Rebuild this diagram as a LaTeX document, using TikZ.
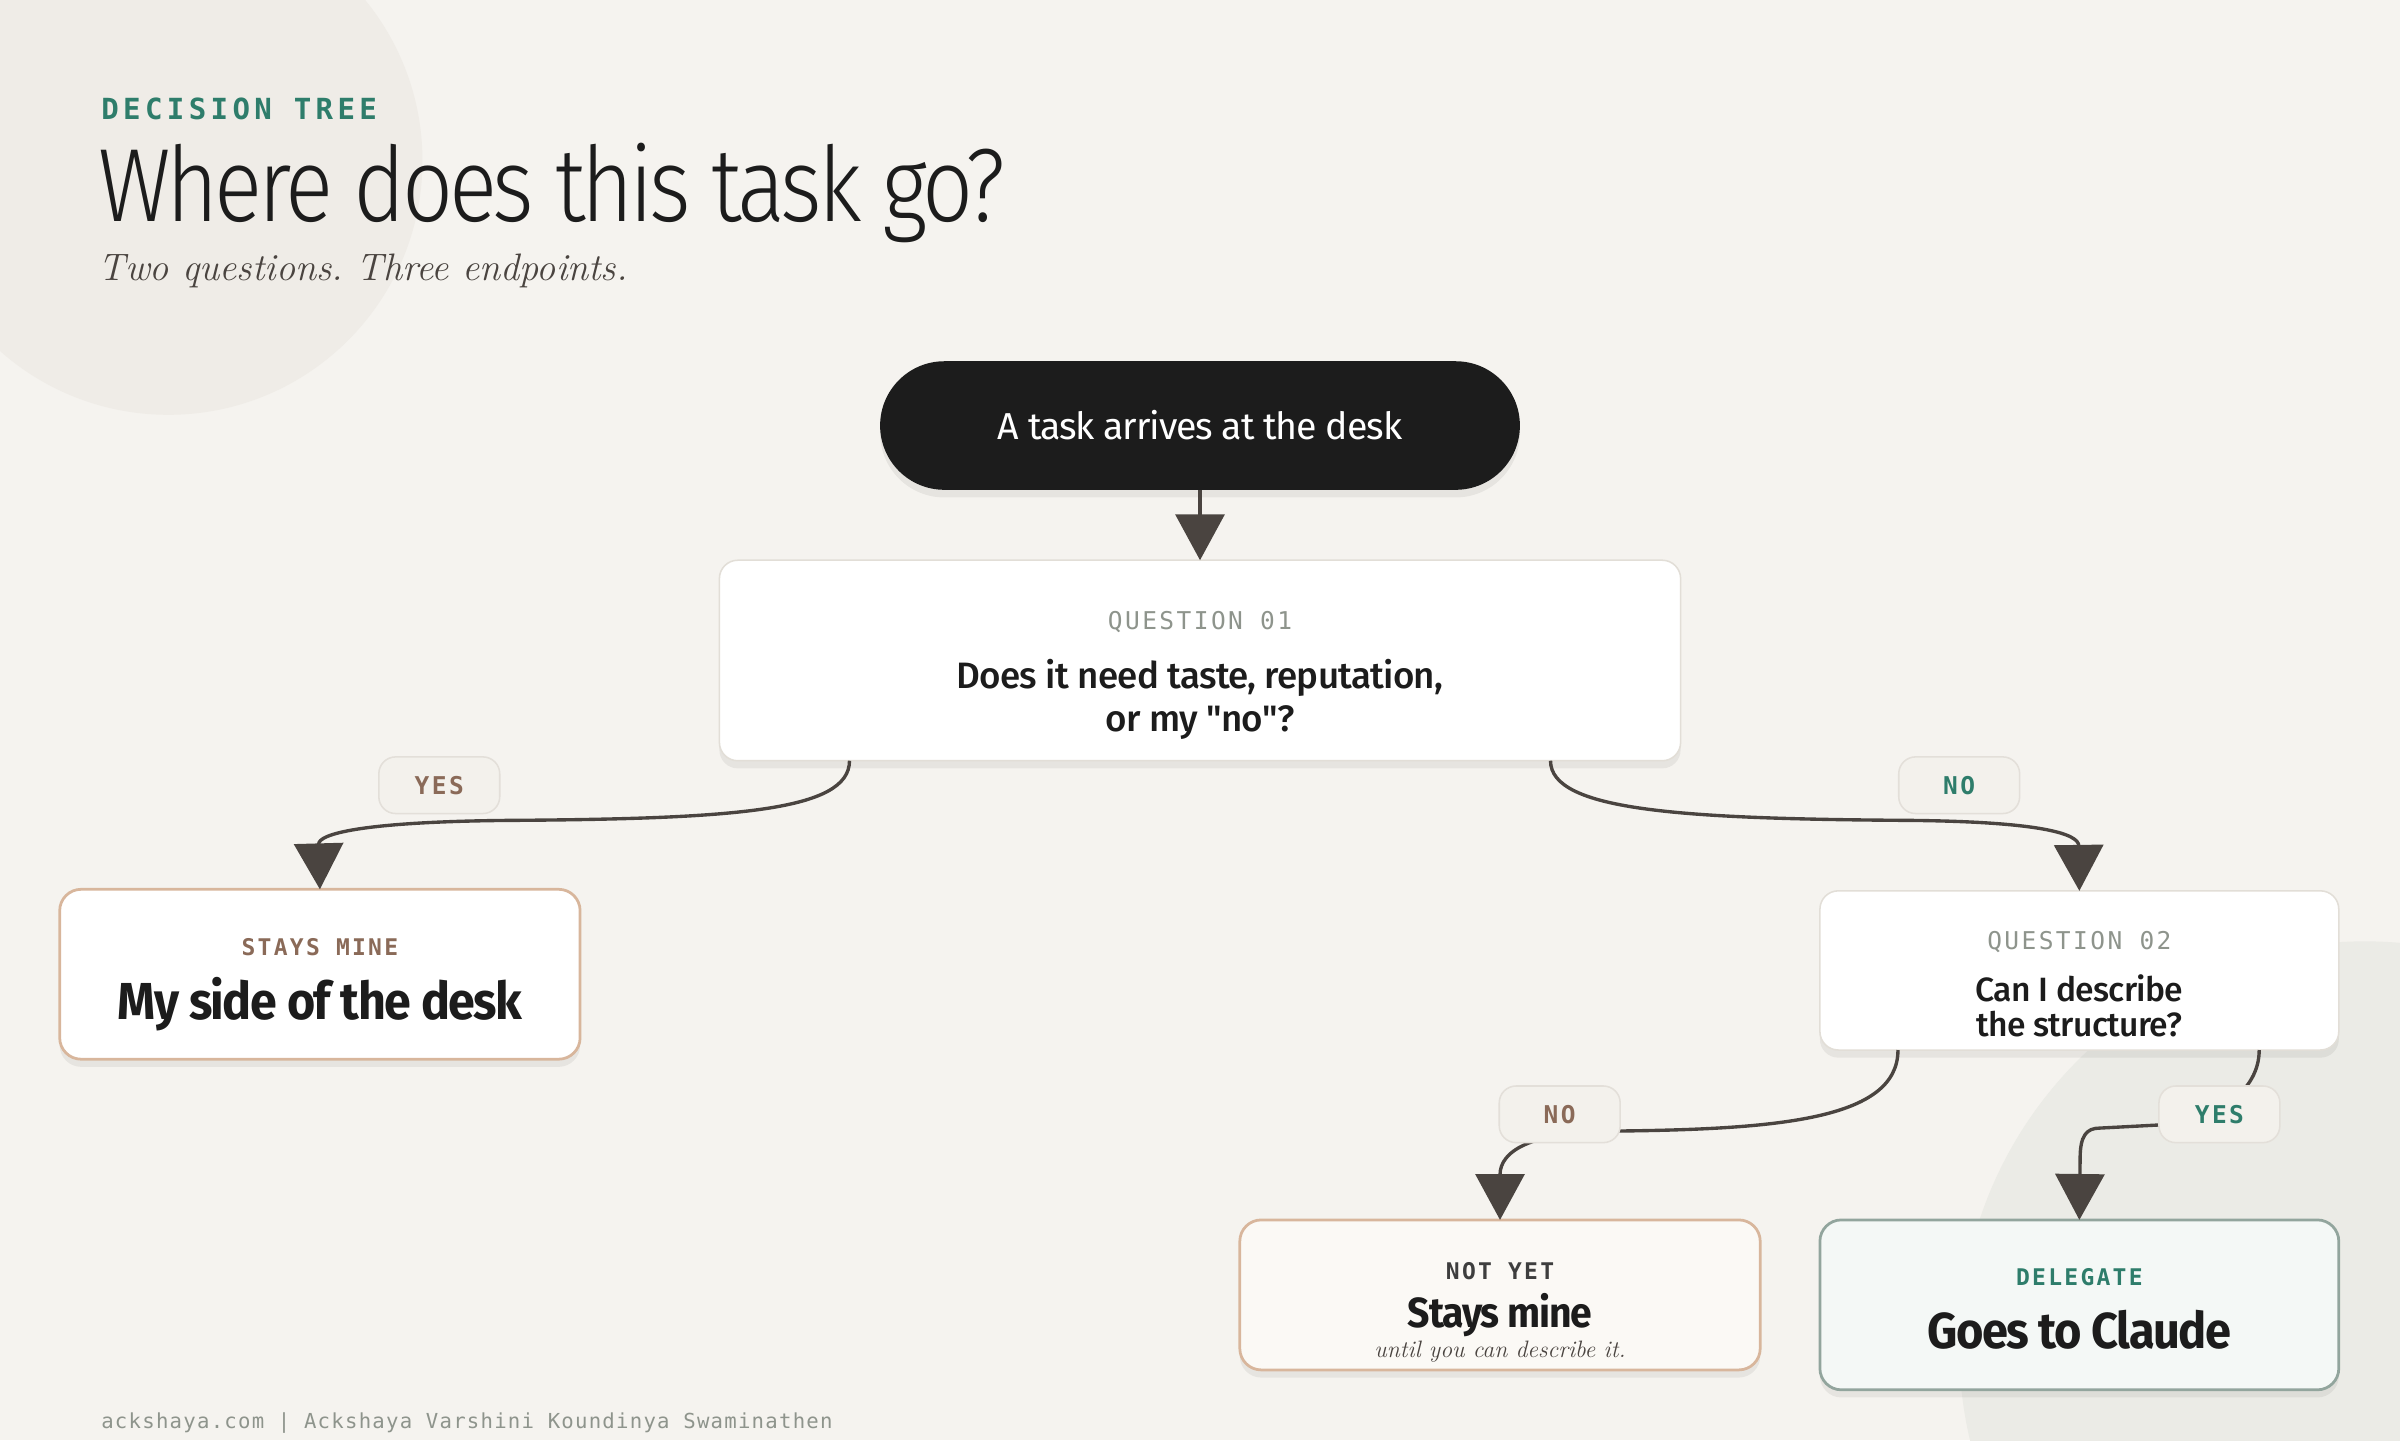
\documentclass[tikz,border=0pt]{standalone}
\usepackage{fontspec}
\usetikzlibrary{arrows.meta,shadows}
\IfFontExistsTF{Fira Sans Light}
	{\newfontfamily\lightfont{Fira Sans Light}[LetterSpace=-4,FakeStretch=0.86]}
	{\newfontfamily\lightfont{Fira Sans}[LetterSpace=-4,FakeStretch=0.83]}
\IfFontExistsTF{Fira Sans Medium}
	{\newfontfamily\medfont{Fira Sans Medium}[LetterSpace=-2]}
	{\newfontfamily\medfont{Fira Sans}[LetterSpace=-2,FakeBold=0.6]}
\newfontfamily\regfont{Fira Sans}[LetterSpace=-3]
\newfontfamily\semifont{Fira Sans}[LetterSpace=-3,FakeStretch=0.93]
\newfontfamily\kickerfont{DejaVu Sans Mono}[LetterSpace=15]
\newfontfamily\tagfont{DejaVu Sans Mono}[LetterSpace=10]
\newfontfamily\footfont{DejaVu Sans Mono}[LetterSpace=6]
\definecolor{paper}{HTML}{F5F3EF}
\definecolor{blob}{HTML}{EFECE7}
\definecolor{blobcool}{HTML}{EBEBE6}
\definecolor{ink}{HTML}{1C1C1C}
\definecolor{wirecol}{HTML}{4A4440}
\definecolor{pine}{HTML}{2E7D6B}
\definecolor{clay}{HTML}{8A6A58}
\definecolor{sage}{HTML}{8E948C}
\definecolor{tan}{HTML}{D8B69C}
\definecolor{rim}{HTML}{E2DED7}
\definecolor{chipfill}{HTML}{F3F1EC}
\definecolor{chiprim}{HTML}{E3DFD9}
\definecolor{mint}{HTML}{F4F8F6}
\definecolor{mintrim}{HTML}{92A59D}
\definecolor{cream}{HTML}{FBF9F5}
\def\sz#1{\fontsize{#1}{#1}\selectfont}
\frenchspacing
\tikzset{
	soft/.style={drop shadow={shadow xshift=0pt,shadow yshift=-5pt,opacity=0.06,fill=black}},
	card/.style={draw=rim,line width=1pt,fill=white,rounded corners=12pt,inner sep=0pt,outer sep=0pt,soft},
	endcard/.style={line width=1.8pt,rounded corners=14pt,inner sep=0pt,outer sep=0pt,soft},
	chip/.style={draw=chiprim,line width=1pt,fill=chipfill,rounded corners=11pt,minimum width=79pt,minimum height=37pt,inner sep=0pt,font=\tagfont\bfseries\sz{16}},
	tagline/.style={anchor=base,inner sep=0pt,font=\tagfont\sz{16}},
	wire/.style={draw=wirecol,line width=2.2pt,-{Triangle[width=32pt,length=30pt]}},
}
\begin{document}
\begin{tikzpicture}[x=1pt,y=-1pt]
	%%%%% PAPER %%%%%
	\useasboundingbox (0,0) rectangle (1568,940.8);
	\clip (0,0) rectangle (1568,940.8);
	\fill[paper] (0,0) rectangle (1568,940.8);
	\fill[blob] (110,105) circle (166);
	\fill[blobcool] (1545,880) circle (265);
	
	%%%%% HEADER %%%%%
	\node[anchor=base west,inner sep=0pt,text=pine,font=\kickerfont\bfseries\sz{19}] (kicker) at (66,78) {DECISION TREE};
	\node[anchor=base west,inner sep=0pt,text=ink,font=\lightfont\sz{68}] (title) at (64,145) {Where does this task go?};
	\node[anchor=base west,inner sep=0pt,text=wirecol,font=\itshape\sz{25}] (subtitle) at (64,183) {Two questions. Three endpoints.};
	
	%%%%% BOXES %%%%%
	\node[fill=ink,rounded corners=42pt,minimum width=418pt,minimum height=84pt,inner sep=0pt,outer sep=0pt,soft,text=white,font=\regfont\sz{24.5}] (arrive) at (784,278) {A task arrives at the desk};
	
	\node[card,minimum width=628pt,minimum height=131pt] (qone) at (784,431.5) {};
	\node[tagline,text=sage] (qonetag) at (784,411) {QUESTION 01};
	\node[align=center,inner sep=0pt,text=ink,font=\medfont\fontsize{24}{28}\selectfont] (qonetext) at (784,457) {Does it need taste, reputation,\\or my "no"?};
	
	\node[endcard,draw=tan,fill=white,minimum width=340pt,minimum height=111pt] (mine) at (209,636.5) {};
	\node[tagline,text=clay,font=\tagfont\bfseries\sz{15}] (minetag) at (209,624) {STAYS MINE};
	\node[anchor=base,inner sep=0pt,text=ink,font=\semifont\bfseries\sz{34}] (minetext) at (209,666) {My side of the desk};
	
	\node[card,minimum width=339pt,minimum height=104pt] (qtwo) at (1358.5,634) {};
	\node[tagline,text=sage] (qtwotag) at (1358.5,620) {QUESTION 02};
	\node[align=center,inner sep=0pt,text=ink,font=\medfont\fontsize{22}{23}\selectfont] (qtwotext) at (1358.5,657) {Can I describe\\the structure?};
	
	\node[endcard,draw=tan,fill=cream,minimum width=340pt,minimum height=98pt] (notyet) at (980,846) {};
	\node[tagline,text=ink!85,font=\tagfont\bfseries\sz{15}] (notyettag) at (980,836) {NOT YET};
	\node[anchor=base,inner sep=0pt,text=ink,font=\semifont\bfseries\sz{27.5}] (notyettext) at (980,867) {Stays mine};
	\node[anchor=base,inner sep=0pt,text=wirecol,font=\itshape\sz{15.5}] (notyetnote) at (980,887) {until you can describe it.};
	
	\node[endcard,draw=mintrim,fill=mint,minimum width=339pt,minimum height=111pt] (claude) at (1358.5,852.5) {};
	\node[tagline,text=pine,font=\tagfont\bfseries\sz{15}] (claudetag) at (1358.5,840) {DELEGATE};
	\node[anchor=base,inner sep=0pt,text=ink,font=\semifont\bfseries\sz{33}] (claudetext) at (1358.5,881) {Goes to Claude};
	
	%%%%% WIRES %%%%%
	\draw[wire] (arrive.south) -- (qone.north);
	\draw[wire] ([xshift=85pt]qone.south west) .. controls (555,530) and (480,535) .. (330,536) .. controls (235,537) and (208,545) .. (mine.north);
	\draw[wire] ([xshift=543pt]qone.south west) .. controls (1013,530) and (1100,535) .. (1250,536) .. controls (1335,537) and (1358,545) .. (qtwo.north);
	\draw[wire] ([xshift=51pt]qtwo.south west) .. controls (1240,732) and (1160,738) .. (1050,739) .. controls (1000,740) and (980,752) .. (notyet.north);
	\draw[wire] ([xshift=287pt]qtwo.south west) .. controls (1476,712) and (1450,732) .. (1410,735) -- (1372,737) .. controls (1363,737) and (1359,742) .. (1359,757) -- (claude.north);
	
	%%%%% CHIPS %%%%%
	\node[chip,text=clay] (yesone) at (287,513) {YES};
	\node[chip,text=pine] (noone) at (1280,513) {NO};
	\node[chip,text=clay] (notwo) at (1019,728) {NO};
	\node[chip,text=pine] (yestwo) at (1450,728) {YES};
	
	%%%%% FOOTER %%%%%
	\node[anchor=base west,inner sep=0pt,text=sage,font=\footfont\sz{13.5}] (credit) at (66,933) {ackshaya.com | Ackshaya Varshini Koundinya Swaminathen};
\end{tikzpicture}
\end{document}
